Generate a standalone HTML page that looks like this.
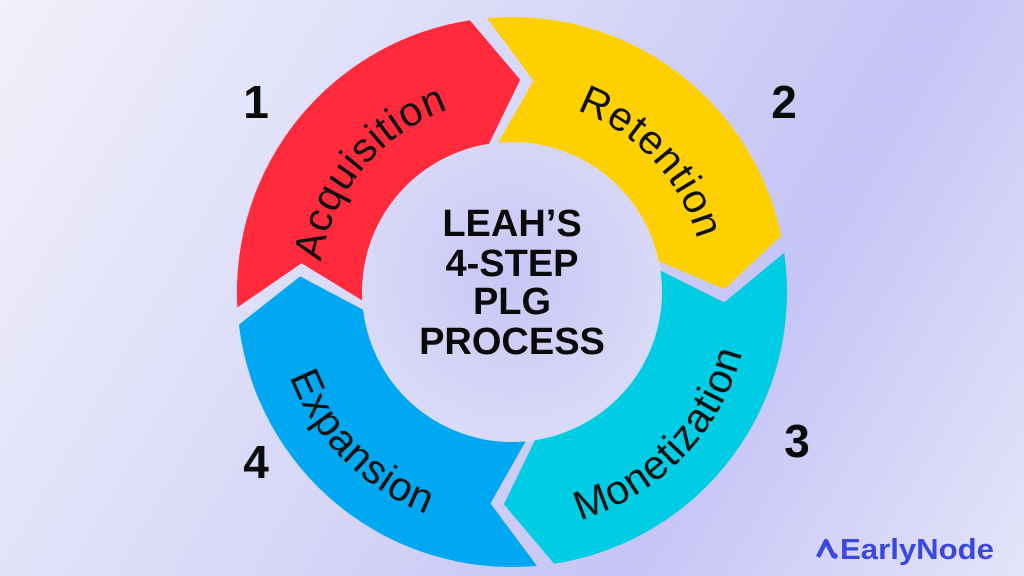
<!DOCTYPE html>
<html><head><meta charset="utf-8"><style>
html,body{margin:0;padding:0}
body{width:1024px;height:576px;overflow:hidden;background:linear-gradient(120deg,#f1f1fb 0%,#d6d6f8 45%,#c6c4f6 70%,#e4e4f9 100%);font-family:"Liberation Sans",sans-serif}
svg{position:absolute;left:0;top:0}
</style></head><body>
<svg id="s" width="1024" height="576" viewBox="0 0 1024 576">
<defs>
<radialGradient id="ig" cx="50%" cy="45%" r="60%"><stop offset="0" stop-color="#c9c6f6"/><stop offset="1" stop-color="#dcdcf8"/></radialGradient>
</defs>
<circle cx="513" cy="293" r="150" fill="url(#ig)"/>
<g id="segs"></g>
<g font-family="Liberation Sans, sans-serif" font-size="41" fill="#111" id="lbl"></g>
<g font-family="Liberation Sans, sans-serif" font-weight="bold" font-size="38" fill="#0a0a0a" text-anchor="middle">
<text x="512" y="236">LEAH’S</text>
<text x="512" y="276">4-STEP</text>
<text x="512" y="314">PLG</text>
<text x="512" y="354">PROCESS</text>
</g>
<g font-family="Liberation Sans, sans-serif" font-weight="bold" font-size="46" fill="#0a0a0a" text-anchor="middle">
<text x="256" y="118">1</text>
<text x="784" y="118">2</text>
<text x="797" y="457">3</text>
<text x="256" y="478">4</text>
</g>
<path d="M818 557 L826 541 L834 557" fill="none" stroke="#3a48e0" stroke-width="4.5" stroke-linejoin="round"/>
<circle cx="835" cy="556" r="2.8" fill="#3a48e0"/>
<text x="840" y="559" font-family="Liberation Sans, sans-serif" font-weight="bold" font-size="29" fill="#3a48e0" textLength="154" lengthAdjust="spacingAndGlyphs">EarlyNode</text>
</svg>
<script>
var cx=512,cy=292,R=275,r=150,Rm=(R+r)/2,d=11,g=1.8;
function P(a,rad){var t=(a-90)*Math.PI/180;return (cx+rad*Math.cos(t)).toFixed(1)+" "+(cy+rad*Math.sin(t)).toFixed(1);}
var segs=[[-95,-7,"#ff2a3c"],[-7,80,"#ffd000"],[80,173,"#00cde4"],[173,265,"#00a8f2"]];
var h="";
segs.forEach(function(s){var a0=s[0]+g,a1=s[1]-g;
h+='<path fill="'+s[2]+'" d="M'+P(a0,R)+' A'+R+' '+R+' 0 0 1 '+P(a1,R)+' L'+P(a1+d,Rm)+' L'+P(a1,r)+' A'+r+' '+r+' 0 0 0 '+P(a0,r)+' L'+P(a0+d,Rm)+' Z"/>';});
document.getElementById("segs").innerHTML=h;
var labs=[["Acquisition",310,193,1],["Retention",47,193,1],["Monetization",134,238,0],["Expansion",225,238,0]];
var t="";var defs="";
labs.forEach(function(l,i){var c=l[1],rad=l[2],p;
if(l[3]){p='M'+P(c-85,rad)+' A'+rad+' '+rad+' 0 0 1 '+P(c+85,rad);}
else{p='M'+P(c+85,rad)+' A'+rad+' '+rad+' 0 0 0 '+P(c-85,rad);}
defs+='<path id="lp'+i+'" d="'+p+'" fill="none"/>';
t+='<text text-anchor="middle" letter-spacing="1"><textPath href="#lp'+i+'" startOffset="50%">'+l[0]+'</textPath></text>';});
document.getElementById("lbl").innerHTML=defs+t;
</script>
</body></html>
